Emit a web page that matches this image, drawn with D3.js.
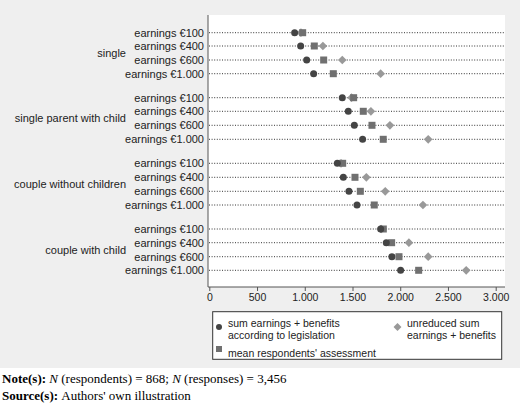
<!DOCTYPE html>
<html><head><meta charset="utf-8">
<script src="https://cdn.jsdelivr.net/npm/d3@7"></script>
<style>body{margin:0;background:#fff}svg{display:block}</style>
</head><body><svg width="520" height="414"></svg>
<script>
const groups = ["single", "single parent with child", "couple without children", "couple with child"];
const earnings = ["earnings €100", "earnings €400", "earnings €600", "earnings €1.000"];
// values per group, in the order of earnings
const legislation = [[894, 957, 1020, 1093], [1393, 1456, 1519, 1606], [1341, 1404, 1463, 1547], [1795, 1854, 1913, 2004]];
const assessment = [[978, 1100, 1198, 1299], [1512, 1613, 1704, 1822], [1397, 1526, 1582, 1728], [1823, 1910, 1987, 2193]];
const unreduced = [[960, 1190, 1393, 1795], [1490, 1693, 1892, 2293], [1380, 1645, 1843, 2238], [1800, 2091, 2293, 2691]];
const ticks = [0, 500, 1000, 1500, 2000, 2500, 3000];

const svg = d3.select("svg");
const font = "Arial, 'Liberation Sans', sans-serif";
svg.append("rect").attr("width", 520).attr("height", 368).attr("fill", "#efefef");

const plotL = 208, plotR = 505, plotT = 15, plotB = 287;
svg.append("rect").attr("x", plotL).attr("y", plotT).attr("width", plotR - plotL).attr("height", plotB - plotT).attr("fill", "#fff");

const x = d3.scaleLinear().domain([0, 3000]).range([209.3, 495.7]);
const rowY = [[32.7, 46, 60, 73.7], [97.7, 111.3, 125.3, 139.3], [163.3, 177.3, 191.3, 205], [229, 242.7, 256.7, 270.3]];

const rows = [];
groups.forEach((g, gi) => earnings.forEach((e, ei) => rows.push({
  g: gi, label: e, y: rowY[gi][ei],
  leg: legislation[gi][ei], ass: assessment[gi][ei], unr: unreduced[gi][ei]
})));

const row = svg.selectAll(".row").data(rows).enter().append("g").attr("class", "row");
row.append("line").attr("x1", plotL + 1).attr("x2", plotR).attr("y1", d => d.y).attr("y2", d => d.y)
  .attr("stroke", "#333").attr("stroke-width", 1).attr("stroke-dasharray", "1,1.6");
row.append("text").attr("x", 204).attr("y", d => d.y).attr("dy", "0.35em").attr("text-anchor", "end")
  .attr("font-family", font).attr("font-size", 11).attr("fill", "#222").text(d => d.label);
row.append("path").attr("transform", d => `translate(${x(d.unr)},${d.y})`)
  .attr("d", d3.symbol(d3.symbolDiamond2, 48)).attr("fill", "#999");
row.append("rect").attr("x", d => x(d.ass) - 3.5).attr("y", d => d.y - 3.5).attr("width", 7).attr("height", 7).attr("fill", "#707070");
row.append("circle").attr("cx", d => x(d.leg)).attr("cy", d => d.y).attr("r", 3.5).attr("fill", "#444");

svg.selectAll(".grp").data(groups).enter().append("text")
  .attr("x", 126).attr("y", (d, i) => (rowY[i][1] + rowY[i][2]) / 2).attr("dy", "0.35em").attr("text-anchor", "end")
  .attr("font-family", font).attr("font-size", 11).attr("fill", "#222").text(d => d);

svg.append("line").attr("x1", plotL).attr("x2", plotL).attr("y1", plotT).attr("y2", plotB).attr("stroke", "#555");
const ax = svg.append("g").attr("transform", `translate(0,${plotB})`)
  .call(d3.axisBottom(x).tickValues(ticks).tickSize(4).tickFormat(d => d3.format(",")(d).replace(",", ".")));
ax.select(".domain").attr("d", `M${plotL},0H${plotR}`).attr("stroke", "#555");
ax.selectAll("line").attr("stroke", "#555");
ax.selectAll("text").attr("font-family", font).attr("font-size", 10.5).attr("fill", "#222");

const lg = svg.append("g");
lg.append("rect").attr("x", 212.7).attr("y", 311.7).attr("width", 289).attr("height", 47.6).attr("fill", "#fff").attr("stroke", "#333");
lg.append("circle").attr("cx", 219).attr("cy", 327).attr("r", 3).attr("fill", "#444");
lg.append("path").attr("transform", "translate(397.5,327)").attr("d", d3.symbol(d3.symbolDiamond2, 40)).attr("fill", "#999");
lg.append("rect").attr("x", 216).attr("y", 346).attr("width", 6).attr("height", 6).attr("fill", "#707070");
const lt = [["sum earnings + benefits", 228, 323], ["according to legislation", 228, 335], ["mean respondents' assessment", 228, 353],
  ["unreduced sum", 407, 323], ["earnings + benefits", 407, 335]];
lg.selectAll("text").data(lt).enter().append("text").attr("x", d => d[1]).attr("y", d => d[2]).attr("dy", "0.35em")
  .attr("font-family", font).attr("font-size", 10.5).attr("fill", "#222").text(d => d[0]);

const n1 = svg.append("text").attr("x", 2).attr("y", 383).attr("font-family", "'Liberation Serif', serif").attr("font-size", 13);
n1.append("tspan").attr("font-weight", "bold").text("Note(s): ");
n1.append("tspan").attr("font-style", "italic").text("N");
n1.append("tspan").text(" (respondents) = 868; ");
n1.append("tspan").attr("font-style", "italic").text("N");
n1.append("tspan").text(" (responses) = 3,456");
const n2 = svg.append("text").attr("x", 2).attr("y", 400).attr("font-family", "'Liberation Serif', serif").attr("font-size", 13);
n2.append("tspan").attr("font-weight", "bold").text("Source(s): ");
n2.append("tspan").text("Authors' own illustration");
</script></body></html>
